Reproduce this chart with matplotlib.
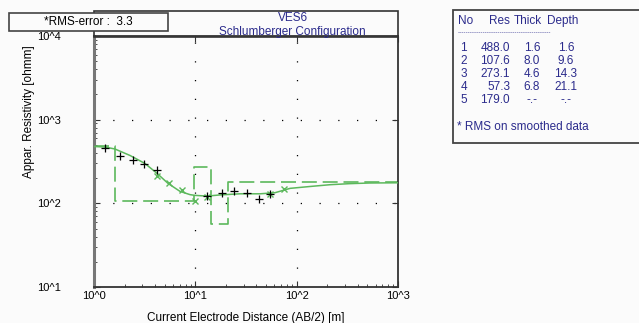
import numpy as np
import matplotlib
matplotlib.use("Agg")
import matplotlib.pyplot as plt
from matplotlib.patches import Rectangle

plt.rcParams['font.family'] = ['Liberation Sans', 'DejaVu Sans']

# layer model (table on the right)
layer_no = [1, 2, 3, 4, 5]
layer_res = [488.0, 107.6, 273.1, 57.3, 179.0]
layer_thick = ['1.6', '8.0', '4.6', '6.8', '-.-']
layer_depth = ['1.6', '9.6', '14.3', '21.1', '-.-']
depths = [1.6, 9.6, 14.3, 21.1]

# field data (+)
field_ab2 = [1.28, 1.81, 2.41, 3.14, 4.22, 12.9, 18.2, 24.1, 32.1, 42.3, 54.6]
field_rho = [455, 366, 331, 297, 247, 122, 133, 139, 133, 114, 129]

# smoothed data (x)
smooth_ab2 = [4.22, 5.53, 7.44, 9.95, 12.9, 54.6, 75.0]
smooth_rho = [215, 175, 143, 106, 119, 131, 150]

# calculated model curve
curve_ab2 = [1.0, 1.28, 1.61, 2.27, 3.19, 4.19, 5.38, 7.06, 8.87, 9.95, 13.05,
             17.5, 27.6, 43.5, 61.2, 86.1, 135.6, 214, 337, 530, 1000]
curve_rho = [478, 471, 446, 373, 299, 228, 173, 139, 127, 124.5, 122,
             126, 130, 130, 134, 151, 159, 167, 172, 175, 176]

x_ticks = [1, 10, 100, 1000]
x_tick_labels = ['10^0', '10^1', '10^2', '10^3']
y_ticks = [10, 100, 1000, 10000]
y_tick_labels = ['10^1', '10^2', '10^3', '10^4']

W, H = 639, 323
green = '#5cb85c'
navy = '#2b2b8c'
bg = '#fbfbfb'

fig = plt.figure(figsize=(W / 100, H / 100), dpi=100, facecolor=bg)


def fx(x):
    return x / W


def fy(y):
    return 1 - y / H


ax = fig.add_axes([fx(94), fy(287), fx(398) - fx(94), fy(36) - fy(287)])
ax.set_facecolor(bg)
ax.set_xscale('log')
ax.set_yscale('log')
ax.set_xlim(1, 1000)
ax.set_ylim(10, 10000)

# step model from layers
mx, my = [1.0], [layer_res[0]]
for d, r0, r1 in zip(depths, layer_res[:-1], layer_res[1:]):
    mx += [d, d]
    my += [r0, r1]
mx.append(1000)
my.append(layer_res[-1])
ax.plot(mx, my, color=green, lw=1.2, linestyle=(0, (9, 3.5)), zorder=2)

ax.plot(curve_ab2, curve_rho, color=green, lw=1.1, zorder=3)
ax.plot(smooth_ab2, smooth_rho, linestyle='none', marker='x', color=green,
        markersize=5, mew=1.0, zorder=4)
ax.plot(field_ab2, field_rho, linestyle='none', marker='+', color='black',
        markersize=6, mew=0.9, zorder=5)

# dotted grid
for xv in [10, 100]:
    ax.axvline(xv, color='black', lw=0.9, linestyle=(0, (1, 14)), zorder=1)
for yv in [100, 1000]:
    ax.axhline(yv, color='black', lw=0.9, linestyle=(0, (1, 14)), zorder=1)

ax.set_xticks(x_ticks)
ax.set_xticklabels(x_tick_labels)
ax.set_yticks(y_ticks)
ax.set_yticklabels(y_tick_labels)
ax.tick_params(which='both', direction='in', top=True, right=True,
               labelsize=8, color='#333333')
ax.tick_params(which='major', length=4)
ax.tick_params(which='minor', length=2)
ax.tick_params(axis='x', pad=3)
ax.tick_params(axis='y', pad=24)
ax.tick_params(axis='x', which='minor', top=False)
ax.tick_params(axis='y', which='minor', right=False)

for s in ['top', 'right', 'bottom']:
    ax.spines[s].set_color('#333333')
    ax.spines[s].set_linewidth(1.3)
ax.spines['left'].set_color('#777777')
ax.spines['left'].set_linewidth(2.2)

fig.text(fx(246), fy(318), 'Current Electrode Distance (AB/2) [m]',
         ha='center', va='center', fontsize=8.5)
fig.text(fx(29), fy(112), 'Appar. Resistivity [ohmm]', rotation=90,
         ha='center', va='center', fontsize=8.5)

# title band
fig.patches.append(Rectangle((fx(94), fy(37)), fx(398) - fx(94), fy(11) - fy(37),
                             transform=fig.transFigure, fill=False,
                             edgecolor='#333333', lw=1.2))
fig.text(fx(293), fy(18), 'VES6', ha='center', va='center', fontsize=8.5, color=navy)
fig.text(fx(292), fy(32), 'Schlumberger Configuration', ha='center', va='center',
         fontsize=8.5, color=navy)

# RMS box
fig.patches.append(Rectangle((fx(9), fy(31)), fx(168) - fx(9), fy(13) - fy(31),
                             transform=fig.transFigure, facecolor=bg,
                             edgecolor='#444444', lw=1.2, zorder=5))
fig.text(fx(88), fy(22), '*RMS-error :  3.3', ha='center', va='center',
         fontsize=8.5, color='black', zorder=6)

# layer table box
fig.patches.append(Rectangle((fx(453), fy(143)), fx(660) - fx(453), fy(10) - fy(143),
                             transform=fig.transFigure, facecolor=bg,
                             edgecolor='#444444', lw=1.3))
fig.text(fx(458), fy(21), 'No', ha='left', va='center', fontsize=8.5, color=navy)
fig.text(fx(489), fy(21), 'Res', ha='left', va='center', fontsize=8.5, color=navy)
fig.text(fx(514), fy(21), 'Thick', ha='left', va='center', fontsize=8.5, color=navy)
fig.text(fx(547), fy(21), 'Depth', ha='left', va='center', fontsize=8.5, color=navy)
fig.text(fx(458), fy(33), '-' * 44, ha='left', va='center', fontsize=4.5, color=navy)
for i, (n, r, t, d) in enumerate(zip(layer_no, layer_res, layer_thick, layer_depth)):
    yy = fy(48.3 + 13 * i)
    fig.text(fx(467), yy, str(n), ha='right', va='center', fontsize=8.5, color=navy)
    fig.text(fx(510), yy, f'{r:.1f}', ha='right', va='center', fontsize=8.5, color=navy)
    fig.text(fx(532), yy, t, ha='center', va='center', fontsize=8.5, color=navy)
    fig.text(fx(566), yy, d, ha='center', va='center', fontsize=8.5, color=navy)
fig.text(fx(457), fy(127), '* RMS on smoothed data', ha='left', va='center',
         fontsize=8.5, color=navy)

fig.savefig('out.png', dpi=100, facecolor=bg)
